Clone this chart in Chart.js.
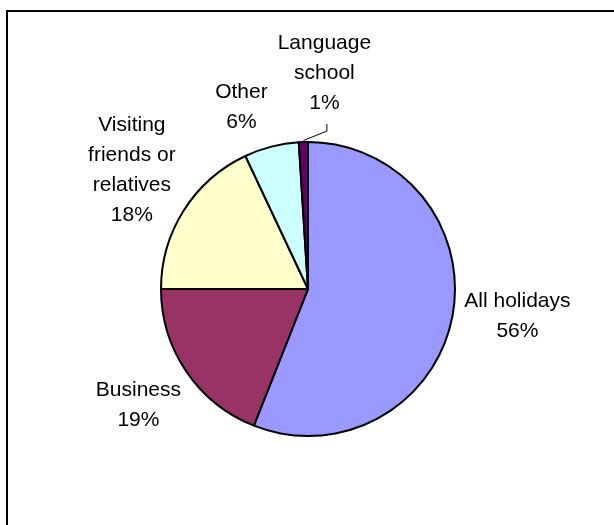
<!DOCTYPE html>
<html>
<head>
<meta charset="utf-8">
<script src="https://cdn.jsdelivr.net/npm/chart.js@4/dist/chart.umd.min.js"></script>
<style>
  html, body { margin: 0; padding: 0; background: #fff; overflow: hidden; }
  #frame {
    position: absolute; left: 6px; top: 10px;
    width: 700px; height: 600px;
    border-left: 2px solid #000; border-top: 2px solid #000;
  }
  #chart { position: absolute; left: 0; top: 0; }
</style>
</head>
<body>
<div id="frame"></div>
<canvas id="chart" width="614" height="525"></canvas>
<script>
// purpose of visit, share of visits (%)
const categories = [
  ['All holidays'],
  ['Business'],
  ['Visiting', 'friends or', 'relatives'],
  ['Other'],
  ['Language', 'school']
];
const shares = [56, 19, 18, 6, 1];
const sliceColors = ['#9999FF', '#993366', '#FFFFCC', '#CCFFFF', '#660066'];

// where each label block sits, relative to the rim point at the slice's mid angle
const labelOffsets = [[65, 0], [-48, 34], [-52, -40], [-30, -39], [21, -69]];
const withLeader = [false, false, false, false, true];

const FONT = '21px "Liberation Sans", Arial, sans-serif';
const LINE_H = 30;

const outsideLabels = {
  id: 'outsideLabels',
  afterDatasetsDraw(chart) {
    const ctx = chart.ctx;
    const arcs = chart.getDatasetMeta(0).data;
    ctx.save();
    ctx.font = FONT;
    ctx.fillStyle = '#000';
    ctx.textAlign = 'center';
    ctx.textBaseline = 'middle';
    arcs.forEach((arc, i) => {
      const { x, y, startAngle, endAngle, outerRadius } =
        arc.getProps(['x', 'y', 'startAngle', 'endAngle', 'outerRadius'], true);
      const mid = (startAngle + endAngle) / 2;
      const px = x + Math.cos(mid) * outerRadius;
      const py = y + Math.sin(mid) * outerRadius;
      const lines = categories[i].concat([shares[i] + '%']);
      const cx = px + labelOffsets[i][0];
      const cy = py + labelOffsets[i][1];
      const top = cy - (lines.length - 1) * LINE_H / 2;
      lines.forEach((t, k) => ctx.fillText(t, cx, top + k * LINE_H));

      // short elbow line from the label down to the slice
      if (withLeader[i]) {
        const bottom = top + (lines.length - 1) * LINE_H + 21;
        ctx.strokeStyle = '#000';
        ctx.lineWidth = 1;
        ctx.beginPath();
        ctx.moveTo(cx + 2.5, bottom);
        ctx.lineTo(cx + 2.5, bottom + 7);
        ctx.lineTo(px, py - 1.5);
        ctx.stroke();
      }
    });
    ctx.restore();
  }
};

new Chart(document.getElementById('chart'), {
  type: 'pie',
  data: {
    labels: categories.map(c => c.join(' ')),
    datasets: [{
      data: shares,
      backgroundColor: sliceColors,
      borderColor: '#000',
      borderWidth: 2
    }]
  },
  options: {
    responsive: false,
    animation: false,
    radius: 147,
    layout: { padding: { left: 2, right: 0, top: 60, bottom: 7 } },
    plugins: {
      legend: { display: false },
      tooltip: { enabled: false }
    }
  },
  plugins: [outsideLabels]
});
</script>
</body>
</html>
